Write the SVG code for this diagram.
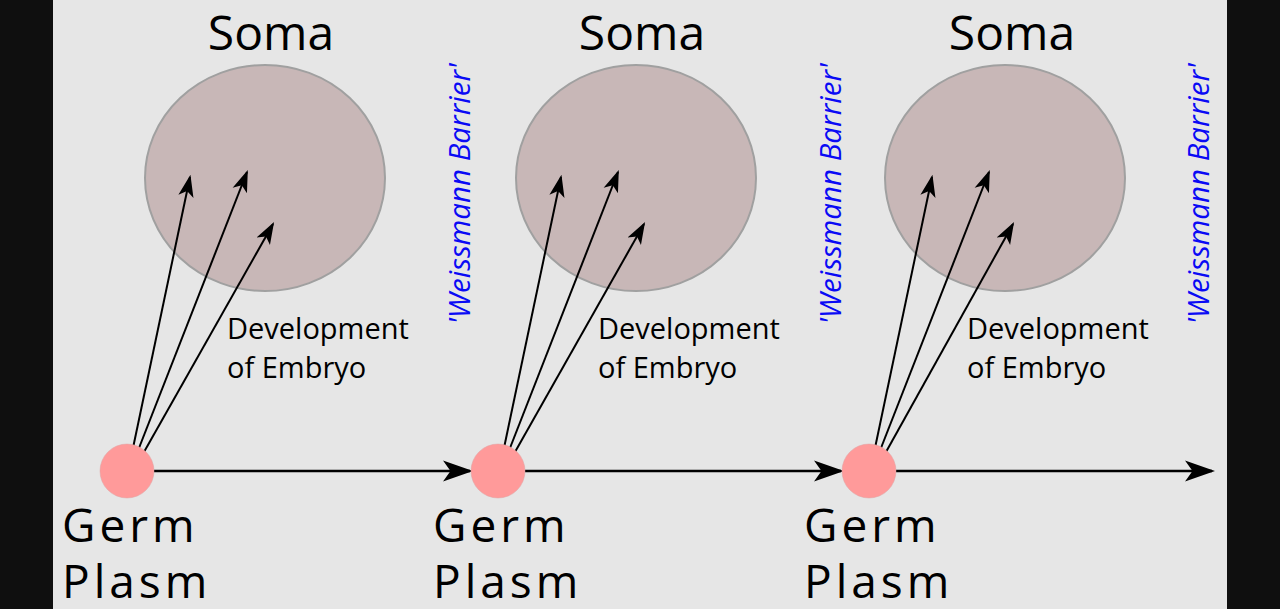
<svg xmlns="http://www.w3.org/2000/svg" width="1280" height="609" viewBox="0 0 1280 609">
<defs>
<marker id="ah2" viewBox="0 0 10 10" refX="9" refY="5" markerWidth="30" markerHeight="30" markerUnits="userSpaceOnUse" orient="auto">
<path d="M0,1.5 L10,5 L0,8.5 L2.5,5 Z" fill="#000"/>
</marker>
<marker id="ahs" viewBox="0 0 10 10" refX="9" refY="5" markerWidth="22" markerHeight="22" markerUnits="userSpaceOnUse" orient="auto">
<path d="M0,1.5 L10,5 L0,8.5 L2.5,5 Z" fill="#000"/>
</marker>
</defs>
<style>
.soma{fill:#c8b7b7;stroke:#a0a0a0;stroke-width:2}
.germ{fill:#ff9a9a;stroke:#e0a0a0;stroke-width:0.5}
.t{font-family:"Open Sans","Noto Sans",sans-serif;fill:#000}
.big{font-size:48px}
.gp{font-size:46px;letter-spacing:4px}
.dev{font-size:29px}
.wb{font-family:"Open Sans","Noto Sans",sans-serif;font-size:29.5px;font-style:italic;fill:#0a0af5}
.l{stroke:#000;stroke-width:2;fill:none;marker-end:url(#ahs)}
.h{stroke:#000;stroke-width:2.5;fill:none;marker-end:url(#ah2)}
</style>
<rect width="1280" height="609" fill="#0f0f0f"/>
<rect x="53" y="0" width="1174" height="609" fill="#e6e6e6"/>

<g id="stage1">
<text class="t big" x="271" y="50" text-anchor="middle">Soma</text>
<ellipse class="soma" cx="265" cy="178" rx="120" ry="113"/>
<text class="t dev" x="227" y="339">Development</text>
<text class="t dev" x="227" y="378">of Embryo</text>
<text class="wb" transform="translate(470,194) rotate(-90)" text-anchor="middle">'Weissmann Barrier'</text>
</g>
<g id="stage2">
<text class="t big" x="642" y="50" text-anchor="middle">Soma</text>
<ellipse class="soma" cx="636" cy="178" rx="120" ry="113"/>
<text class="t dev" x="598" y="339">Development</text>
<text class="t dev" x="598" y="378">of Embryo</text>
<text class="wb" transform="translate(841,194) rotate(-90)" text-anchor="middle">'Weissmann Barrier'</text>
</g>
<g id="stage3">
<text class="t big" x="1012" y="50" text-anchor="middle">Soma</text>
<ellipse class="soma" cx="1005" cy="178" rx="120" ry="113"/>
<text class="t dev" x="967" y="339">Development</text>
<text class="t dev" x="967" y="378">of Embryo</text>
<text class="wb" transform="translate(1209,194) rotate(-90)" text-anchor="middle">'Weissmann Barrier'</text>
</g>

<g id="connectors">
<line class="h" x1="154" y1="471" x2="470" y2="471"/>
<line class="h" x1="525" y1="471" x2="841" y2="471"/>
<line class="h" x1="896" y1="471" x2="1212" y2="471"/>
<line class="l" x1="133" y1="448" x2="190" y2="177"/>
<line class="l" x1="139" y1="448" x2="247" y2="172"/>
<line class="l" x1="144" y1="452" x2="273" y2="224"/>
<line class="l" x1="504" y1="448" x2="561" y2="177"/>
<line class="l" x1="510" y1="448" x2="618" y2="172"/>
<line class="l" x1="515" y1="452" x2="644" y2="224"/>
<line class="l" x1="875" y1="448" x2="932" y2="177"/>
<line class="l" x1="881" y1="448" x2="989" y2="172"/>
<line class="l" x1="886" y1="452" x2="1013" y2="224"/>
</g>

<g id="germ1">
<circle class="germ" cx="127" cy="471" r="27"/>
<text class="t gp" x="62" y="542">Germ</text>
<text class="t gp" x="62" y="598">Plasm</text>
</g>
<g id="germ2">
<circle class="germ" cx="498" cy="471" r="27"/>
<text class="t gp" x="433" y="542">Germ</text>
<text class="t gp" x="433" y="598">Plasm</text>
</g>
<g id="germ3">
<circle class="germ" cx="869" cy="471" r="27"/>
<text class="t gp" x="804" y="542">Germ</text>
<text class="t gp" x="804" y="598">Plasm</text>
</g>
</svg>
